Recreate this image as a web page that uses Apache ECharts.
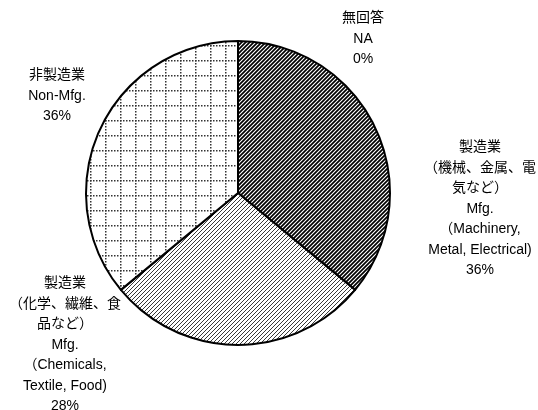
<!DOCTYPE html>
<html>
<head>
<meta charset="utf-8">
<script src="https://cdn.jsdelivr.net/npm/echarts@6/dist/echarts.min.js"></script>
<style>html,body{margin:0;padding:0;background:#fff;}#main{width:538px;height:410px;}</style>
</head>
<body>
<div id="main"></div>
<script>
// ---- data ----
const categories = [
  '製造業\n（機械、金属、電\n気など）\nMfg.\n（Machinery,\nMetal, Electrical)',
  '製造業\n（化学、繊維、食\n品など）\nMfg.\n（Chemicals,\nTextile, Food)',
  '非製造業\nNon-Mfg.',
  '無回答\nNA'
];
const values = [36, 28, 36, 0];

// ---- label placement (px, centre of text block) ----
const labelPos = [[480, 209], [65, 345], [57, 96], [363, 39]];

function hatch(size, lw, color) {
  const c = document.createElement('canvas');
  c.width = size; c.height = size;
  const ctx = c.getContext('2d');
  ctx.fillStyle = '#fff'; ctx.fillRect(0, 0, size, size);
  ctx.strokeStyle = color; ctx.lineWidth = lw;
  ctx.beginPath();
  for (let k = -1; k <= 1; k++) {
    ctx.moveTo(k * size - 1, size + 1);
    ctx.lineTo(k * size + size + 1, -1);
  }
  ctx.stroke();
  return c;
}
function dotGrid(size, color) {
  const c = document.createElement('canvas');
  c.width = size; c.height = size;
  const ctx = c.getContext('2d');
  ctx.fillStyle = '#fff'; ctx.fillRect(0, 0, size, size);
  ctx.fillStyle = color;
  for (let i = 0; i < size; i += 3) {
    ctx.fillRect(i, 0, 1.5, 1.5);
    ctx.fillRect(0, i, 1.5, 1.5);
  }
  return c;
}
const fills = [
  { image: hatch(4, 1.7, '#000'), repeat: 'repeat' },
  { image: hatch(4, 0.9, '#222'), repeat: 'repeat' },
  { image: dotGrid(15, '#333'), repeat: 'repeat' },
  '#fff'
];

const chart = echarts.init(document.getElementById('main'));
chart.setOption({
  backgroundColor: '#fff',
  animation: false,
  series: [{
    type: 'pie',
    center: [238, 193],
    radius: 152,
    startAngle: 90,
    clockwise: true,
    avoidLabelOverlap: false,
    data: categories.map((n, i) => ({
      name: n, value: values[i],
      itemStyle: { color: fills[i] }
    })),
    itemStyle: { borderColor: '#000', borderWidth: 2 },
    label: {
      show: true,
      position: 'outside',
      formatter: p => p.name + '\n' + p.value + '%',
      color: '#000',
      fontSize: 14,
      lineHeight: 20.5,
      fontFamily: '"Liberation Sans", "Noto Sans CJK JP", sans-serif',
      align: 'center'
    },
    labelLine: { show: false },
    labelLayout: function (params) {
      const p = labelPos[params.dataIndex];
      return { x: p[0], y: p[1], align: 'center', verticalAlign: 'middle' };
    },
    emphasis: { disabled: true }
  }]
});
</script>
</body>
</html>
